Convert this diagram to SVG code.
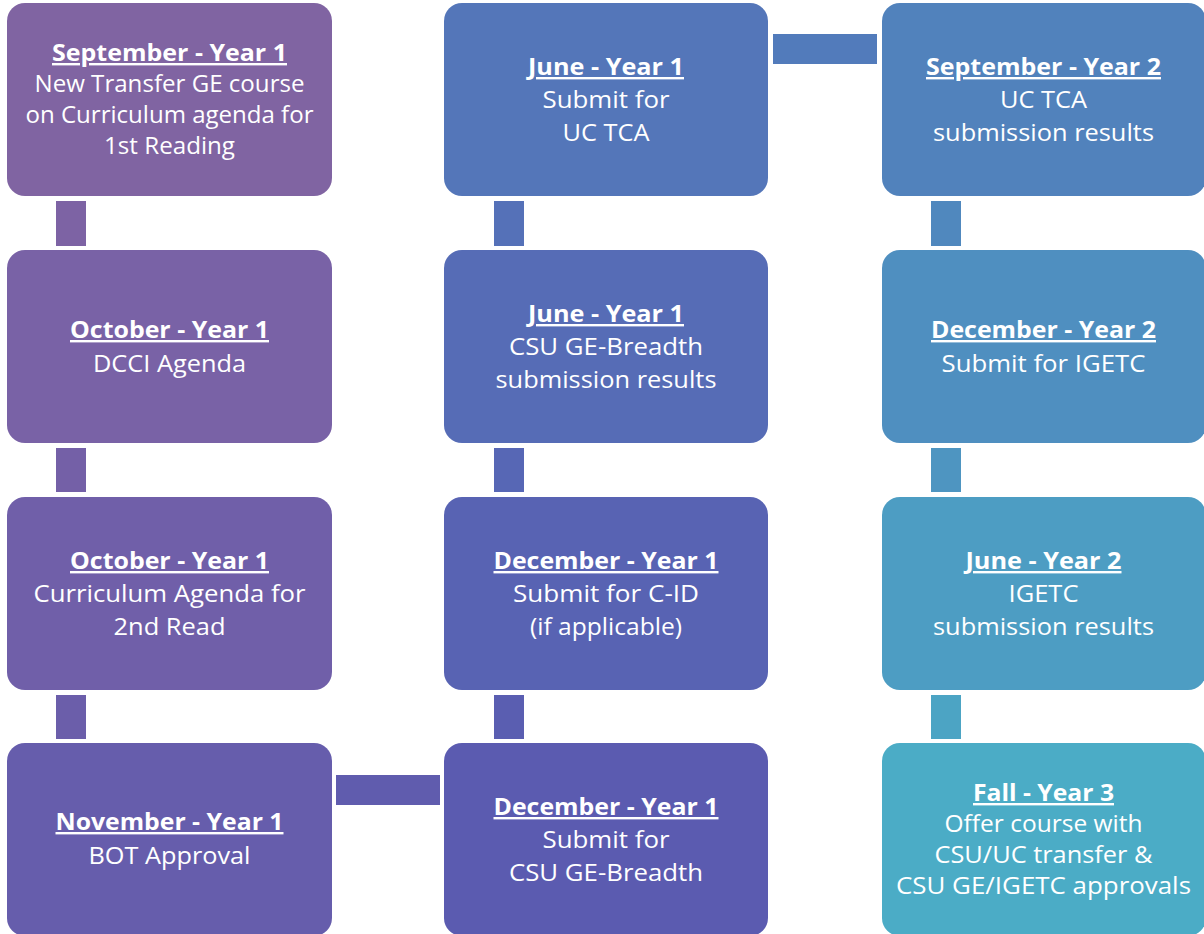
<svg xmlns="http://www.w3.org/2000/svg" width="1204" height="934" viewBox="0 0 1204 934">
<style>
text{font-family:"Open Sans","Liberation Sans",sans-serif;font-size:24px;fill:#ffffff;text-anchor:middle}
.h{font-weight:bold;text-decoration:underline}
.box{stroke:none}
</style>
<rect width="1204" height="934" fill="#ffffff"/>
<g id="connectors">
<rect x="56" y="201" width="30" height="45" fill="hsl(263.7,26.2%,51.5%)"/>
<rect x="56" y="448" width="30" height="44" fill="hsl(256.9,28.7%,51.7%)"/>
<rect x="56" y="695" width="30" height="44" fill="hsl(250.2,31.1%,51.9%)"/>
<rect x="336" y="775" width="104" height="30" fill="hsl(243.4,33.6%,52.1%)"/>
<rect x="494" y="695" width="30" height="44" fill="hsl(236.7,36%,52.3%)"/>
<rect x="494" y="448" width="30" height="44" fill="hsl(229.9,38.5%,52.5%)"/>
<rect x="494" y="201" width="30" height="45" fill="hsl(223.1,40.9%,52.7%)"/>
<rect x="773" y="34" width="104" height="30" fill="hsl(216.4,43.4%,52.8%)"/>
<rect x="931" y="201" width="30" height="45" fill="hsl(209.6,45.8%,53%)"/>
<rect x="931" y="448" width="30" height="44" fill="hsl(202.8,48.2%,53.2%)"/>
<rect x="931" y="695" width="30" height="44" fill="hsl(196.1,50.7%,53.4%)"/>
</g>
<g id="n1">
<rect class="box" x="7" y="3" width="325" height="193" rx="18" fill="hsl(267.1,25%,51.4%)"/>
<text class="h" x="169.5" y="61" textLength="235" lengthAdjust="spacingAndGlyphs">September - Year 1</text>
<text x="169.5" y="92" textLength="270" lengthAdjust="spacingAndGlyphs">New Transfer GE course</text>
<text x="169.5" y="123" textLength="288" lengthAdjust="spacingAndGlyphs">on Curriculum agenda for</text>
<text x="169.5" y="154" textLength="131" lengthAdjust="spacingAndGlyphs">1st Reading</text>
</g>
<g id="n2">
<rect class="box" x="7" y="250" width="325" height="193" rx="18" fill="hsl(260.3,27.5%,51.6%)"/>
<text class="h" x="169.5" y="338" textLength="199" lengthAdjust="spacingAndGlyphs">October - Year 1</text>
<text x="169.5" y="372" textLength="153" lengthAdjust="spacingAndGlyphs">DCCI Agenda</text>
</g>
<g id="n3">
<rect class="box" x="7" y="497" width="325" height="193" rx="18" fill="hsl(253.6,29.9%,51.8%)"/>
<text class="h" x="169.5" y="569" textLength="199" lengthAdjust="spacingAndGlyphs">October - Year 1</text>
<text x="169.5" y="602" textLength="272" lengthAdjust="spacingAndGlyphs">Curriculum Agenda for</text>
<text x="169.5" y="635" textLength="112" lengthAdjust="spacingAndGlyphs">2nd Read</text>
</g>
<g id="n4">
<rect class="box" x="7" y="743" width="325" height="193" rx="18" fill="hsl(246.8,32.3%,52%)"/>
<text class="h" x="169.5" y="830" textLength="228" lengthAdjust="spacingAndGlyphs">November - Year 1</text>
<text x="169.5" y="864" textLength="162" lengthAdjust="spacingAndGlyphs">BOT Approval</text>
</g>
<g id="n5">
<rect class="box" x="444" y="743" width="324" height="193" rx="18" fill="hsl(240,34.8%,52.2%)"/>
<text class="h" x="606" y="815" textLength="225" lengthAdjust="spacingAndGlyphs">December - Year 1</text>
<text x="606" y="848" textLength="127" lengthAdjust="spacingAndGlyphs">Submit for</text>
<text x="606" y="881" textLength="194" lengthAdjust="spacingAndGlyphs">CSU GE-Breadth</text>
</g>
<g id="n6">
<rect class="box" x="444" y="497" width="324" height="193" rx="18" fill="hsl(233.3,37.2%,52.4%)"/>
<text class="h" x="606" y="569" textLength="225" lengthAdjust="spacingAndGlyphs">December - Year 1</text>
<text x="606" y="602" textLength="186" lengthAdjust="spacingAndGlyphs">Submit for C-ID</text>
<text x="606" y="635" textLength="152" lengthAdjust="spacingAndGlyphs">(if applicable)</text>
</g>
<g id="n7">
<rect class="box" x="444" y="250" width="324" height="193" rx="18" fill="hsl(226.5,39.7%,52.6%)"/>
<text class="h" x="606" y="322" textLength="156" lengthAdjust="spacingAndGlyphs">June - Year 1</text>
<text x="606" y="355" textLength="194" lengthAdjust="spacingAndGlyphs">CSU GE-Breadth</text>
<text x="606" y="388" textLength="221" lengthAdjust="spacingAndGlyphs">submission results</text>
</g>
<g id="n8">
<rect class="box" x="444" y="3" width="324" height="193" rx="18" fill="hsl(219.8,42.1%,52.7%)"/>
<text class="h" x="606" y="75" textLength="156" lengthAdjust="spacingAndGlyphs">June - Year 1</text>
<text x="606" y="108" textLength="127" lengthAdjust="spacingAndGlyphs">Submit for</text>
<text x="606" y="141" textLength="87" lengthAdjust="spacingAndGlyphs">UC TCA</text>
</g>
<g id="n9">
<rect class="box" x="882" y="3" width="324" height="193" rx="18" fill="hsl(213,44.6%,52.9%)"/>
<text class="h" x="1043.5" y="75" textLength="235" lengthAdjust="spacingAndGlyphs">September - Year 2</text>
<text x="1043.5" y="108" textLength="87" lengthAdjust="spacingAndGlyphs">UC TCA</text>
<text x="1043.5" y="141" textLength="221" lengthAdjust="spacingAndGlyphs">submission results</text>
</g>
<g id="n10">
<rect class="box" x="882" y="250" width="324" height="193" rx="18" fill="hsl(206.2,47%,53.1%)"/>
<text class="h" x="1043.5" y="338" textLength="225" lengthAdjust="spacingAndGlyphs">December - Year 2</text>
<text x="1043.5" y="372" textLength="204" lengthAdjust="spacingAndGlyphs">Submit for IGETC</text>
</g>
<g id="n11">
<rect class="box" x="882" y="497" width="324" height="193" rx="18" fill="hsl(199.5,49.5%,53.3%)"/>
<text class="h" x="1043.5" y="569" textLength="156" lengthAdjust="spacingAndGlyphs">June - Year 2</text>
<text x="1043.5" y="602" textLength="70" lengthAdjust="spacingAndGlyphs">IGETC</text>
<text x="1043.5" y="635" textLength="221" lengthAdjust="spacingAndGlyphs">submission results</text>
</g>
<g id="n12">
<rect class="box" x="882" y="743" width="324" height="193" rx="18" fill="hsl(192.7,51.9%,53.5%)"/>
<text class="h" x="1043.5" y="801" textLength="141" lengthAdjust="spacingAndGlyphs">Fall - Year 3</text>
<text x="1043.5" y="832" textLength="198" lengthAdjust="spacingAndGlyphs">Offer course with</text>
<text x="1043.5" y="863" textLength="218" lengthAdjust="spacingAndGlyphs">CSU/UC transfer &amp;</text>
<text x="1043.5" y="894" textLength="295" lengthAdjust="spacingAndGlyphs">CSU GE/IGETC approvals</text>
</g>
</svg>
